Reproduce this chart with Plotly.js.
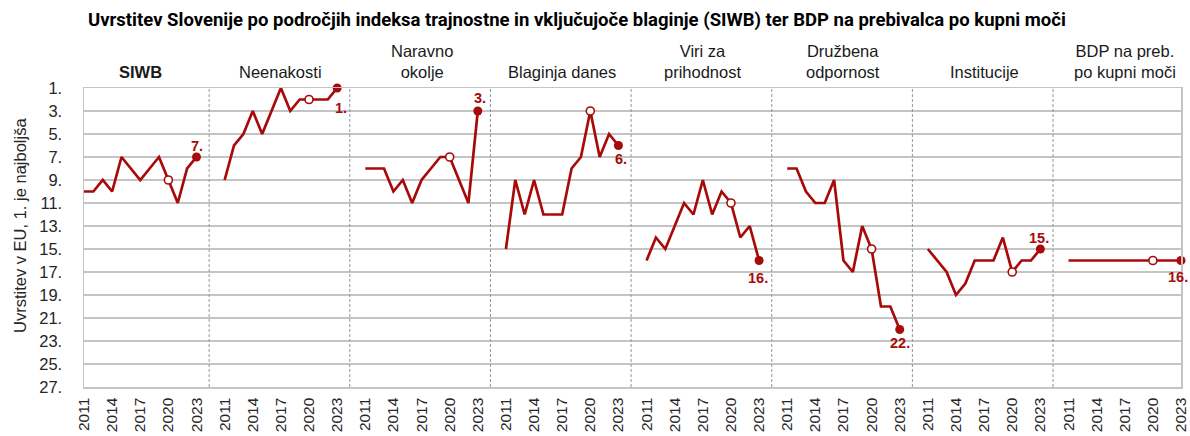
<!DOCTYPE html>
<html>
<head>
<meta charset="utf-8">
<script src="https://cdn.plot.ly/plotly-3.0.1.min.js"></script>
<style>html,body{margin:0;padding:0;background:#fff;}#chart{width:1190px;height:436px;}</style>
</head>
<body>
<div id="chart"></div>
<script>
// ---- DATA ----
const years = [2011, 2012, 2013, 2014, 2015, 2016, 2017, 2018, 2019, 2020, 2021, 2022, 2023];
const tickYears = [2011, 2014, 2017, 2020, 2023];
const panelNames = ['<b>SIWB</b>', 'Neenakosti', 'Naravno<br>okolje', 'Blaginja danes', 'Viri za<br>prihodnost', 'Družbena<br>odpornost', 'Institucije', 'BDP na preb.<br>po kupni moči'];
const siwb        = [10, 10, 9, 10, 7, 8, 9, 8, 7, 9, 11, 8, 7];
const neenakosti  = [9, 6, 5, 3, 5, 3, 1, 3, 2, 2, 2, 2, 1];
const naravno     = [8, 8, 8, 10, 9, 11, 9, 8, 7, 7, 9, 11, 3];
const blaginja    = [15, 9, 12, 9, 12, 12, 12, 8, 7, 3, 7, 5, 6];
const viri        = [16, 14, 15, 13, 11, 12, 9, 12, 10, 11, 14, 13, 16];
const druzbena    = [8, 8, 10, 11, 11, 9, 16, 17, 13, 15, 20, 20, 22];
const institucije = [15, 16, 17, 19, 18, 16, 16, 16, 14, 17, 16, 16, 15];
const bdp         = [16, 16, 16, 16, 16, 16, 16, 16, 16, 16, 16, 16, 16];
const yTicks = [1, 3, 5, 7, 9, 11, 13, 15, 17, 19, 21, 23, 25, 27];
const openYear = 2020;
const lastYear = 2023;
const yTitle = 'Uvrstitev v EU, 1. je najboljša';

// ---- STYLE ----
const series = [siwb, neenakosti, naravno, blaginja, viri, druzbena, institucije, bdp];
const red = '#A80A0A';
const slotsPerPanel = 15;
const sepOffset = 13.35;
const labelShift = [[0, 11.5], [4, -20], [2, 13], [3, -13], [-1, -17], [0, -13], [-1, 11], [-3, -16]];
const font = 'Liberation Sans, Arial, sans-serif';

const xPos = (p, y) => p * slotsPerPanel + (y - years[0]);

const traces = [];
const annotations = [];
const shapes = [];
const tickvals = [], ticktext = [];

series.forEach((vals, p) => {
  traces.push({
    x: years.map(y => xPos(p, y)), y: vals, mode: 'lines', type: 'scatter',
    line: {color: red, width: 2.7}, hoverinfo: 'skip', showlegend: false, cliponaxis: false
  });
  const io = years.indexOf(openYear), il = years.indexOf(lastYear);
  traces.push({
    x: [xPos(p, openYear)], y: [vals[io]], mode: 'markers', type: 'scatter',
    marker: {color: '#ffffff', size: 8, line: {color: red, width: 1.6}}, showlegend: false, cliponaxis: false
  });
  traces.push({
    x: [xPos(p, lastYear)], y: [vals[il]], mode: 'markers', type: 'scatter',
    marker: {color: red, size: 9}, showlegend: false, cliponaxis: false
  });
  annotations.push({
    x: xPos(p, lastYear), y: vals[il], xref: 'x', yref: 'y', text: '<b>' + vals[il] + '.</b>',
    showarrow: false, xshift: labelShift[p][0], yshift: labelShift[p][1],
    font: {family: font, size: 14.5, color: red}
  });
  annotations.push({
    x: xPos(p, 2017), y: 1, xref: 'x', yref: 'paper', yanchor: 'bottom', yshift: 5,
    text: panelNames[p], showarrow: false, font: {family: font, size: 16.5, color: '#1a1a1a'}
  });
  tickYears.forEach(y => { tickvals.push(xPos(p, y)); ticktext.push(String(y)); });
  if (p < series.length - 1) {
    const xs = p * slotsPerPanel + sepOffset;
    shapes.push({type: 'line', xref: 'x', yref: 'paper', x0: xs, x1: xs, y0: 0, y1: 1,
      line: {color: '#8a96a3', width: 1, dash: '3px,2px'}});
  }
});

annotations.push({
  text: yTitle, xref: 'paper', yref: 'paper', x: -64 / 1097, y: (387 - 226) / 299,
  xanchor: 'center', yanchor: 'middle', textangle: -90, showarrow: false,
  font: {family: font, size: 16.5, color: '#262626'}
});

const layout = {
  width: 1190, height: 436,
  margin: {l: 84, r: 9, t: 88, b: 49},
  paper_bgcolor: '#ffffff', plot_bgcolor: '#ffffff',
  title: {
    text: '<b>Uvrstitev Slovenije po področjih indeksa trajnostne in vključujoče blaginje (SIWB) ter BDP na prebivalca po kupni moči</b>',
    x: 88 / 1190, xanchor: 'left', xref: 'container', y: 1 - 20 / 436, yanchor: 'middle', yref: 'container',
    font: {family: 'Liberation Sans Narrow, Arial Narrow, Roboto, sans-serif', size: 18.5, color: '#000'}
  },
  xaxis: {
    range: [0, (series.length - 1) * slotsPerPanel + years.length - 1],
    tickvals: tickvals, ticktext: ticktext, tickangle: -90,
    showgrid: false, zeroline: false, showline: true, mirror: true, linecolor: '#c4c4c4', linewidth: 1.5,
    ticks: '', tickfont: {family: font, size: 15.5, color: '#262626'}, ticklabelstandoff: 3
  },
  yaxis: {
    range: [27, 1], tickvals: yTicks, ticktext: yTicks.map(v => v + '.'),
    showgrid: true, gridcolor: '#c4c4c4', gridwidth: 1.5, zeroline: false,
    showline: true, mirror: true, linecolor: '#c4c4c4', linewidth: 1.5,
    ticks: '', ticklabelstandoff: 17, tickfont: {family: font, size: 16.5, color: '#262626'}
  },
  annotations: annotations,
  shapes: shapes,
  showlegend: false
};

Plotly.newPlot('chart', traces, layout, {staticPlot: true, displayModeBar: false});
</script>
</body>
</html>
